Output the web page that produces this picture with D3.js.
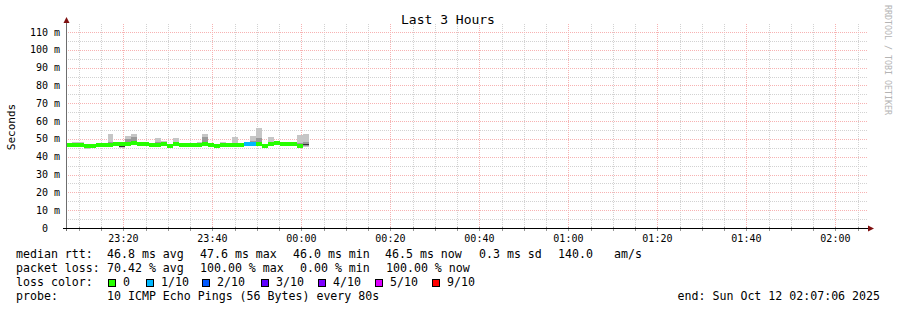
<!DOCTYPE html>
<html>
<head>
<meta charset="utf-8">
<script src="https://cdn.jsdelivr.net/npm/d3@7"></script>
<style>
  body { margin: 0; background: #fff; }
  svg { display: block; font-family: "DejaVu Sans Mono", monospace; }
</style>
</head>
<body>
<script>
// time window and probe step
const startTime = new Date(2025, 9, 11, 23, 7, 6);
const endTime = new Date(2025, 9, 12, 2, 7, 6);
const stepSeconds = 80;

// per step values in ms (smoke = sorted pings, median line coloured by loss)
const medianMs = [46.6, 46.8, 46.8, 46.3, 46.3, 46.5, 46.6, 46.4, 46.9, 47.0, 47.2, 47.8, 47.4, 47.2, 46.6, 46.8, 46.9, 45.8, 46.9, 46.6, 46.6, 46.6, 46.8, 47.2, 46.4, 46.2, 46.4, 46.6, 46.7, 46.6, 47.3, 47.3, 47.0, 46.0, 47.0, 47.9, 46.9, 46.9, 46.9, 46.0, 46.9];
const pingMin = [45.9, 46.3, 46.2, 44.6, 45.8, 46.0, 46.1, 45.7, 46.3, 44.8, 46.4, 46.5, 46.6, 46.5, 45.9, 46.2, 45.8, 45.3, 46.3, 46.1, 45.9, 45.6, 46.3, 46.5, 45.9, 45.7, 45.5, 46.0, 46.1, 46.1, 45.8, 45.9, 45.8, 45.6, 46.4, 47.2, 46.1, 46.4, 46.3, 45.5, 45.6];
const pingLow = [46.2, 46.5, 46.5, 45.4, 46.0, 46.2, 46.3, 46.0, 46.6, 45.6, 46.8, 47.0, 47.0, 46.8, 46.2, 46.5, 46.3, 45.5, 46.6, 46.3, 46.2, 46.1, 46.5, 46.8, 46.1, 45.9, 45.9, 46.3, 46.4, 46.3, 46.5, 46.6, 46.3, 45.8, 46.7, 47.5, 46.5, 46.6, 46.6, 45.8, 46.0];
const pingHigh = [47.0, 47.3, 47.3, 46.8, 46.7, 46.8, 47.0, 48.5, 47.4, 47.5, 49.8, 51.2, 47.8, 47.6, 47.0, 48.5, 47.6, 46.4, 47.8, 47.3, 47.3, 47.3, 47.4, 50.8, 46.8, 46.6, 47.0, 47.2, 47.8, 47.0, 47.6, 49.0, 50.6, 46.6, 47.8, 48.2, 47.2, 47.4, 47.6, 47.6, 48.0];
const pingMax = [47.4, 48.1, 48.1, 47.1, 47.0, 47.1, 47.3, 52.7, 48.2, 47.8, 51.6, 52.7, 48.2, 48.1, 47.4, 50.5, 49.0, 46.8, 50.5, 47.9, 47.9, 47.9, 48.0, 52.7, 47.0, 46.8, 48.1, 47.9, 51.2, 47.2, 47.9, 51.4, 56.1, 47.0, 51.2, 48.4, 47.5, 47.8, 48.2, 52.3, 52.7];
const innerLo = [null, null, null, null, null, null, null, null, null, 45.4, null, null, null, null, null, null, null, null, null, null, null, null, null, null, null, null, null, null, null, null, null, null, 45.9, null, null, null, null, null, null, 46.4, 46.6];
const innerHi = [null, null, null, null, null, null, null, null, null, 46.4, null, null, null, null, null, null, null, null, null, null, null, null, null, null, null, null, null, null, null, null, null, null, 46.4, null, null, null, null, null, null, 46.9, 47.2];
const lossCount = [0, 0, 0, 0, 0, 0, 0, 0, 0, 0, 0, 0, 0, 0, 0, 0, 0, 0, 0, 0, 0, 0, 0, 0, 0, 0, 0, 0, 0, 0, 1, 1, 0, 0, 0, 0, 0, 0, 0, 0, 10];

// loss legend
const lossNames = ["0", "1/10", "2/10", "3/10", "4/10", "5/10", "9/10"];
const lossLevels = [0, 1, 2, 3, 4, 5, 9];
const lossColors = ["#26ff00", "#00b8ff", "#0059ff", "#5e00ff", "#7e00ff", "#dd00ff", "#ff0000"];

const yTicksMs = [0, 10, 20, 30, 40, 50, 60, 70, 80, 90, 100, 110];

const rttStats = ["46.8 ms avg", "47.6 ms max", "46.0 ms min", "46.5 ms now", "0.3 ms sd", "140.0", "am/s"];
const lossStats = ["70.42 % avg", "100.00 % max", "0.00 % min", "100.00 % now"];

let width = 897, height = 310;
let plotLeft = 66, plotRight = 867, plotTop = 24, plotBottom = 228;

let svg = d3.select("body").append("svg")
  .attr("width", width)
  .attr("height", height);

let x = d3.scaleTime().domain([startTime, endTime]).range([plotLeft, plotRight]);
let y = d3.scaleLinear().domain([0, 114.5]).range([plotBottom, plotTop]);

let px = v => Math.round(v) + 0.5;

// grid
let minorX = x.ticks(d3.timeMinute.every(5));
let majorX = x.ticks(d3.timeMinute.every(20));
let isMajorX = d => d.getMinutes() % 20 == 0;

let grid = svg.append("g").attr("shape-rendering", "crispEdges");
grid.append("g").selectAll("line")
  .data(minorX.filter(d => !isMajorX(d)))
  .join("line")
  .attr("x1", d => px(x(d))).attr("x2", d => px(x(d)))
  .attr("y1", plotTop).attr("y2", plotBottom)
  .attr("stroke", "#d2d2d2").attr("stroke-dasharray", "1,1");

let minorY = d3.range(5, 115, 5);
grid.append("g").selectAll("line")
  .data(minorY.filter(d => d % 10 != 0))
  .join("line")
  .attr("x1", plotLeft).attr("x2", plotRight)
  .attr("y1", d => px(y(d))).attr("y2", d => px(y(d)))
  .attr("stroke", "#d2d2d2").attr("stroke-dasharray", "1,1");

grid.append("g").selectAll("line")
  .data(majorX)
  .join("line")
  .attr("x1", d => px(x(d))).attr("x2", d => px(x(d)))
  .attr("y1", plotTop).attr("y2", plotBottom)
  .attr("stroke", "#f7b2b2").attr("stroke-dasharray", "1,1");

grid.append("g").selectAll("line")
  .data(yTicksMs.filter(d => d > 0))
  .join("line")
  .attr("x1", plotLeft).attr("x2", plotRight)
  .attr("y1", d => px(y(d))).attr("y2", d => px(y(d)))
  .attr("stroke", "#f7b2b2").attr("stroke-dasharray", "1,1");

// smoke and median
let steps = medianMs.map((m, i) => ({
  t0: new Date(startTime.getTime() + i * stepSeconds * 1000),
  t1: new Date(startTime.getTime() + (i + 1) * stepSeconds * 1000),
  median: m, min: pingMin[i], low: pingLow[i], high: pingHigh[i], max: pingMax[i],
  inLo: innerLo[i], inHi: innerHi[i], loss: lossCount[i]
}));

let band = (g, data, lo, hi, color) => {
  g.append("g").selectAll("rect")
    .data(data)
    .join("rect")
    .attr("x", d => Math.round(x(d.t0)))
    .attr("width", d => Math.round(x(d.t1)) - Math.round(x(d.t0)))
    .attr("y", d => Math.round(y(hi(d))))
    .attr("height", d => Math.max(1, Math.round(y(lo(d))) - Math.round(y(hi(d)))))
    .attr("fill", color);
};

let smoke = svg.append("g").attr("shape-rendering", "crispEdges");
band(smoke, steps, d => d.min, d => d.max, "#c6c6c6");
band(smoke, steps, d => d.low, d => d.high, "#9a9a9a");
band(smoke, steps.filter(d => d.inLo != null), d => d.inLo, d => d.inHi, "#333333");

let lossColor = n => {
  let idx = lossLevels.findIndex(l => l >= n);
  return idx < 0 ? null : lossColors[idx];
};

smoke.append("g").selectAll("rect")
  .data(steps.filter(d => lossColor(d.loss)))
  .join("rect")
  .attr("x", d => Math.round(x(d.t0)))
  .attr("width", d => Math.round(x(d.t1)) - Math.round(x(d.t0)))
  .attr("y", d => Math.round(y(d.median)) - 2)
  .attr("height", 4)
  .attr("fill", d => lossColor(d.loss));

// axes
let axes = svg.append("g").attr("shape-rendering", "crispEdges");
axes.append("g").selectAll("line")
  .data(minorX)
  .join("line")
  .attr("x1", d => px(x(d))).attr("x2", d => px(x(d)))
  .attr("y1", plotBottom - 1).attr("y2", plotBottom + 3)
  .attr("stroke", "#999999");

axes.append("line")
  .attr("x1", px(plotLeft)).attr("x2", px(plotLeft))
  .attr("y1", plotBottom + 3).attr("y2", plotTop - 2)
  .attr("stroke", "#6e6e6e");
axes.append("line")
  .attr("x1", plotLeft - 3).attr("x2", plotRight + 2)
  .attr("y1", px(plotBottom)).attr("y2", px(plotBottom))
  .attr("stroke", "#000");
svg.append("path")
  .attr("d", `M${plotLeft - 2.5},${plotTop - 1} L${plotLeft + 0.5},${plotTop - 7} L${plotLeft + 3.5},${plotTop - 1} Z`)
  .attr("fill", "#7f1010");
svg.append("path")
  .attr("d", `M${plotRight + 1},${plotBottom - 2.5} L${plotRight + 7},${plotBottom + 0.5} L${plotRight + 1},${plotBottom + 3.5} Z`)
  .attr("fill", "#7f1010");

// tick labels
svg.append("g").selectAll("text")
  .data(majorX)
  .join("text")
  .attr("x", d => x(d))
  .attr("y", 242)
  .attr("text-anchor", "middle")
  .style("font-size", "10px")
  .text(d3.timeFormat("%H:%M"));

svg.append("g").selectAll("text")
  .data(yTicksMs)
  .join("text")
  .attr("x", d => d == 0 ? 48 : 60)
  .attr("y", d => y(d) + 3.5)
  .attr("text-anchor", "end")
  .style("font-size", "10px")
  .text(d => d == 0 ? "0" : d + " m");

// titles
svg.append("text")
  .attr("x", 448).attr("y", 24)
  .attr("text-anchor", "middle")
  .style("font-size", "13px")
  .text("Last 3 Hours");

svg.append("text")
  .attr("transform", "translate(15,127) rotate(-90)")
  .attr("text-anchor", "middle")
  .style("font-size", "11px")
  .text("Seconds");

svg.append("text")
  .attr("transform", "translate(885,5) rotate(90)")
  .attr("fill", "#b4b4b4")
  .style("font-size", "8.3px")
  .text("RRDTOOL / TOBI OETIKER");

// legend
let legend = svg.append("g").style("font-size", "11.6px");
let row = (txt, xs, yy) => legend.append("g").selectAll("text")
  .data(txt)
  .join("text")
  .attr("x", (d, i) => xs[i])
  .attr("y", yy)
  .text(d => d);

row(["median rtt:"].concat(rttStats), [16, 107, 200, 293, 385, 479, 558, 614], 258);
row(["packet loss:"].concat(lossStats), [16, 107, 200, 300, 386], 272);
row(["loss color:"], [16], 286);
let keyX = [108, 146, 202, 261, 318, 375, 432];
legend.append("g").selectAll("rect")
  .data(lossNames)
  .join("rect")
  .attr("x", (d, i) => keyX[i] + 0.5)
  .attr("y", 279.5)
  .attr("width", 7).attr("height", 7)
  .attr("fill", (d, i) => lossColors[i])
  .attr("stroke", "#000")
  .attr("shape-rendering", "crispEdges");
row(lossNames, keyX.map(v => v + 15), 286);
row(["probe:", "10 ICMP Echo Pings (56 Bytes) every 80s"], [16, 107], 300);
legend.append("text")
  .attr("x", 880).attr("y", 300)
  .attr("text-anchor", "end")
  .text("end: " + d3.timeFormat("%a %b %d %H:%M:%S %Y")(endTime));
</script>
</body>
</html>
